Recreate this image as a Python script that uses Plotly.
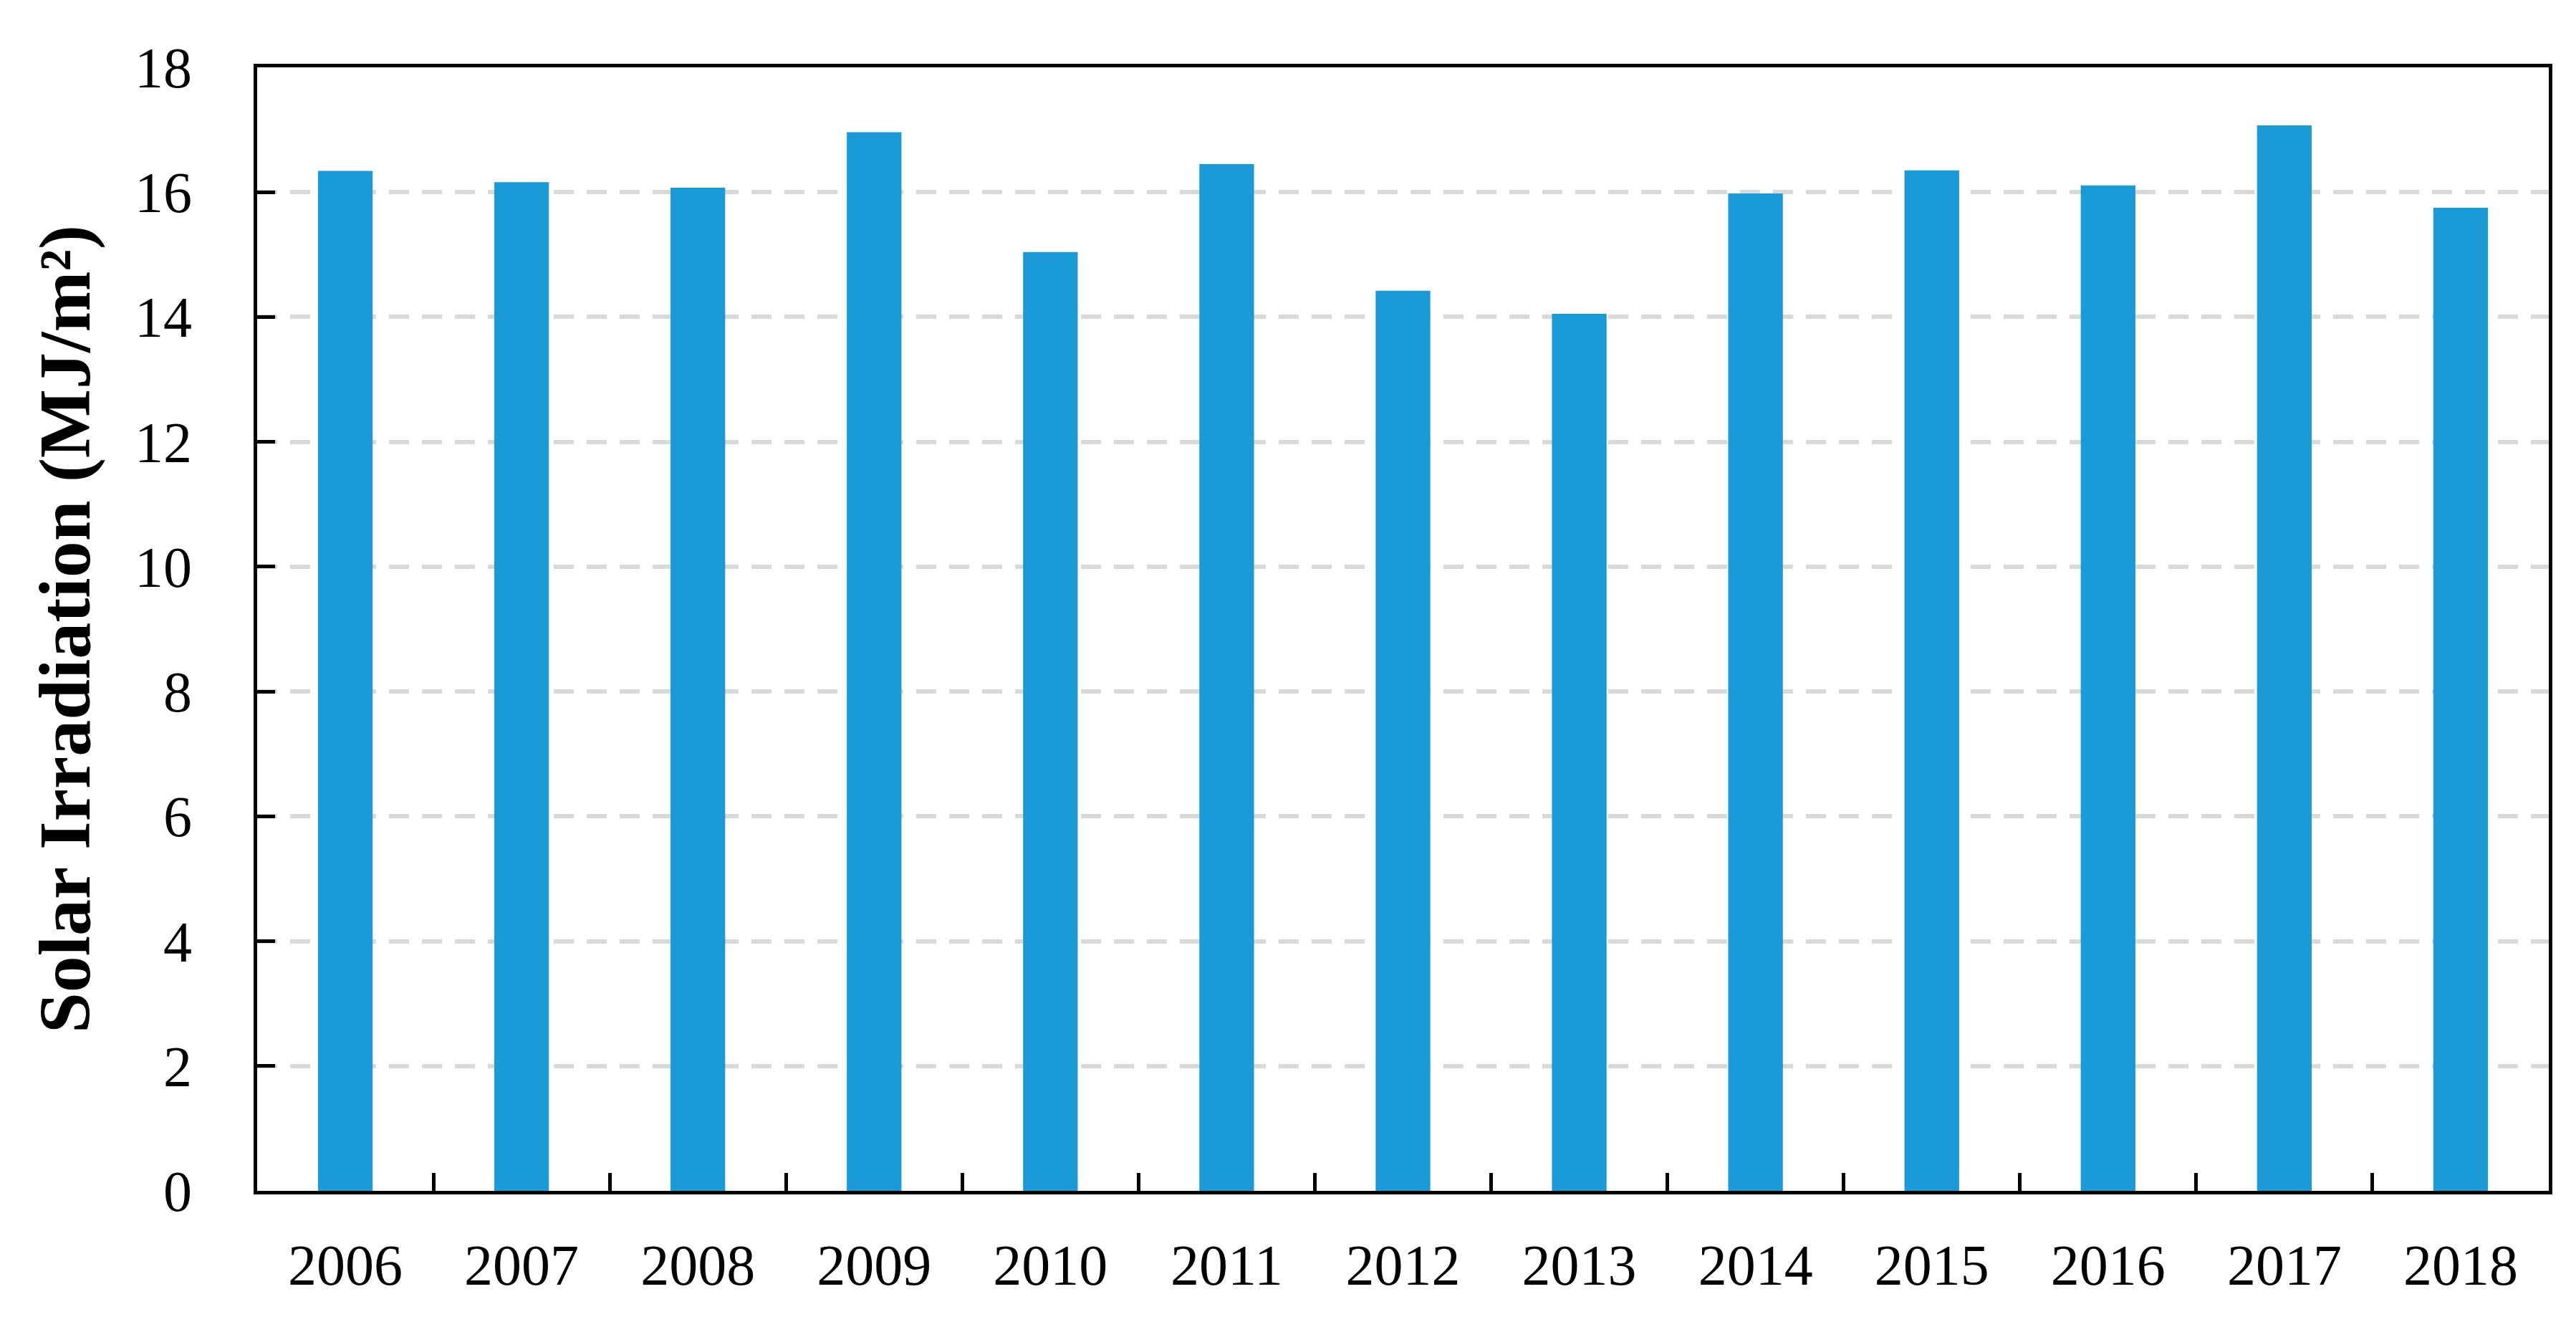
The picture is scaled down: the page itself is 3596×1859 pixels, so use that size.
import plotly.graph_objects as go

years = ["2006", "2007", "2008", "2009", "2010", "2011", "2012",
         "2013", "2014", "2015", "2016", "2017", "2018"]
irradiation = [16.34, 16.16, 16.07, 16.96, 15.04, 16.45, 14.42,
               14.05, 15.98, 16.35, 16.11, 17.07, 15.75]
y_ticks = [0, 2, 4, 6, 8, 10, 12, 14, 16, 18]

FONT = "Liberation Serif, Times New Roman, serif"

fig = go.Figure(go.Bar(
    x=years, y=irradiation,
    marker=dict(color="#1a9ad6", line=dict(width=0)),
))

fig.update_layout(
    width=3596, height=1859,
    margin=dict(l=351, r=46, t=86, b=205),
    paper_bgcolor="white", plot_bgcolor="white",
    bargap=0.69,
    showlegend=False,
    font=dict(family=FONT, color="black", size=80),
)

fig.update_xaxes(
    type="category",
    tickson="boundaries",
    ticks="inside", ticklen=25, tickwidth=5, tickcolor="black",
    showline=True, linecolor="black", linewidth=5, mirror=True,
    showgrid=False,
    tickfont=dict(family=FONT, size=80, color="black"),
    ticklabelstandoff=30,
)

fig.update_yaxes(
    range=[0, 18],
    tickvals=y_ticks,
    ticks="inside", ticklen=25, tickwidth=5, tickcolor="black",
    showline=True, linecolor="black", linewidth=5, mirror=True,
    showgrid=True, gridcolor="#d9d9d9", gridwidth=6, griddash="28px,18px",
    zeroline=False,
    tickfont=dict(family=FONT, size=80, color="black"),
    ticklabelstandoff=70,
    title=dict(text="<b>Solar Irradiation (MJ/m²)</b>",
               font=dict(family=FONT, size=102, color="black"),
               standoff=30),
)

fig.write_html("out.html")
